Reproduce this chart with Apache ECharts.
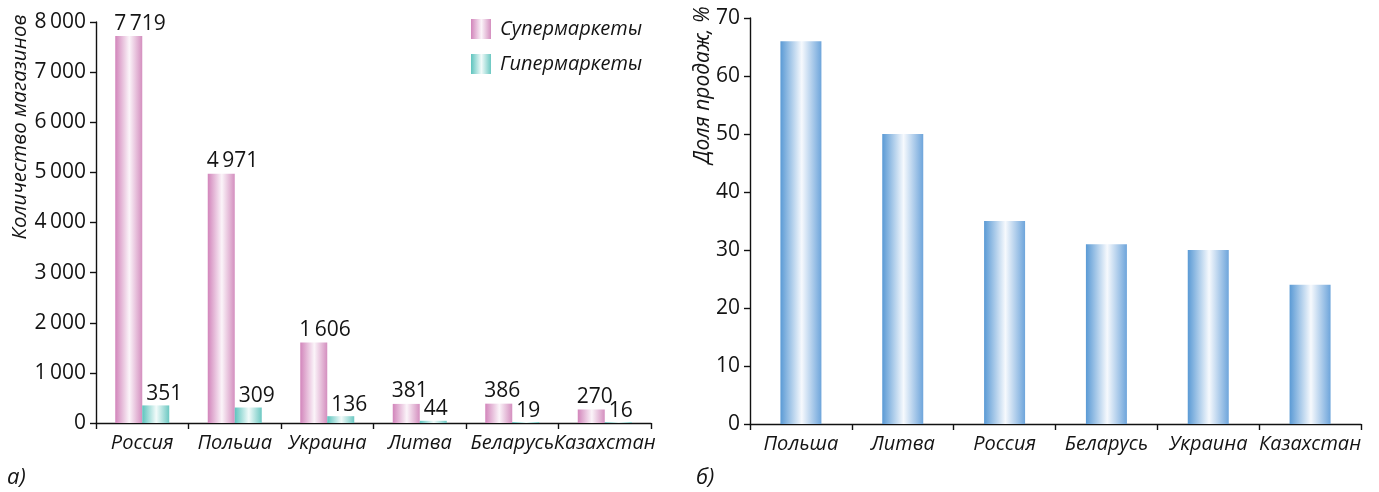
<!DOCTYPE html>
<html>
<head>
<meta charset="utf-8">
<script src="https://cdn.jsdelivr.net/npm/echarts@6/dist/echarts.min.js"></script>
<style>
  html, body { margin: 0; padding: 0; background: #fff; }
  #chart { width: 1379px; height: 492px; }
</style>
</head>
<body>
<div id="chart"></div>
<script>
// Panel а: number of stores by country
const storeCountries = ['Россия', 'Польша', 'Украина', 'Литва', 'Беларусь', 'Казахстан'];
const supermarkets = [7719, 4971, 1606, 381, 386, 270];
const hypermarkets = [351, 309, 136, 44, 19, 16];
const storeTicks = [0, 1000, 2000, 3000, 4000, 5000, 6000, 7000, 8000];

// Panel б: share of sales, %
const shareCountries = ['Польша', 'Литва', 'Россия', 'Беларусь', 'Украина', 'Казахстан'];
const shareValues = [66, 50, 35, 31, 30, 24];
const shareTicks = [0, 10, 20, 30, 40, 50, 60, 70];

const FONT = 'Open Sans';
const TXT = '#141414';

// thousands separated by a thin space
function groupDigits(v) {
  return String(v).replace(/\B(?=(\d{3})+(?!\d))/g, '\u2009');
}

function barGradient(edgeL, mid, edgeR) {
  return {
    type: 'linear', x: 0, y: 0, x2: 1, y2: 0,
    colorStops: [
      { offset: 0, color: edgeL },
      { offset: 0.52, color: mid },
      { offset: 1, color: edgeR }
    ]
  };
}

const pink = barGradient('#d285bb', '#fbf4f9', '#d48fbf');
const teal = barGradient('#5ec4be', '#f2fbfa', '#6cc8c2');
const blue = barGradient('#5a9ad5', '#f6f9fd', '#6ea5db');

const lineStyle = { color: '#111', width: 1.4 };
const axisLine = { show: true, lineStyle: lineStyle };
const axisTick = { show: true, length: 6, lineStyle: lineStyle };
const catLabel = { color: TXT, fontFamily: FONT, fontStyle: 'italic', fontSize: 20, margin: 10, interval: 0 };
const valLabel = { color: TXT, fontFamily: FONT, fontSize: 21, margin: 10 };

// value labels start at the bar's left edge, just above its top
function barLabel(dx, dy) {
  return {
    show: true, position: [0, 0], align: 'left', verticalAlign: 'bottom', offset: [dx, dy],
    color: TXT, fontFamily: FONT, fontSize: 21,
    formatter: p => groupDigits(p.value)
  };
}

const chart = echarts.init(document.getElementById('chart'), null, { renderer: 'canvas' });

chart.setOption({
  animation: false,
  backgroundColor: '#fff',
  legend: {
    orient: 'vertical',
    left: 471,
    top: 19,
    padding: 0,
    itemWidth: 20,
    itemHeight: 20,
    itemGap: 15,
    icon: 'rect',
    data: ['Супермаркеты', 'Гипермаркеты'],
    textStyle: { color: TXT, fontFamily: FONT, fontStyle: 'italic', fontSize: 20, padding: [0, 0, 0, 4] }
  },
  grid: [
    { left: 96, right: 728, top: 22, bottom: 69 },
    { left: 750, right: 18, top: 18, bottom: 68 }
  ],
  xAxis: [
    {
      type: 'category', gridIndex: 0, data: storeCountries,
      axisLine: axisLine, axisTick: axisTick, axisLabel: catLabel
    },
    {
      type: 'category', gridIndex: 1, data: shareCountries,
      axisLine: axisLine, axisTick: axisTick, axisLabel: catLabel
    }
  ],
  yAxis: [
    {
      type: 'value', gridIndex: 0,
      min: storeTicks[0], max: storeTicks[storeTicks.length - 1], interval: storeTicks[1] - storeTicks[0],
      axisLine: axisLine, axisTick: axisTick,
      splitLine: { show: false },
      axisLabel: Object.assign({ formatter: v => groupDigits(v) }, valLabel)
    },
    {
      type: 'value', gridIndex: 1,
      min: shareTicks[0], max: shareTicks[shareTicks.length - 1], interval: shareTicks[1] - shareTicks[0],
      axisLine: axisLine, axisTick: axisTick,
      splitLine: { show: false },
      axisLabel: valLabel
    }
  ],
  series: [
    {
      name: 'Супермаркеты', type: 'bar', xAxisIndex: 0, yAxisIndex: 0,
      data: supermarkets, barWidth: 27, barGap: '0%',
      itemStyle: { color: pink },
      label: barLabel(-1, -2)
    },
    {
      name: 'Гипермаркеты', type: 'bar', xAxisIndex: 0, yAxisIndex: 0,
      data: hypermarkets, barWidth: 27, barGap: '0%',
      itemStyle: { color: teal },
      label: barLabel(4, -1)
    },
    {
      name: 'Доля продаж', type: 'bar', xAxisIndex: 1, yAxisIndex: 1,
      data: shareValues, barWidth: 41,
      itemStyle: { color: blue }
    }
  ],
  graphic: [
    {
      type: 'text', x: 20, y: 127, rotation: Math.PI / 2,
      style: {
        text: 'Количество магазинов', fill: TXT,
        font: 'italic 20.5px "' + FONT + '"', textAlign: 'center', textVerticalAlign: 'middle'
      }
    },
    {
      type: 'text', x: 703, y: 85, rotation: Math.PI / 2,
      style: {
        text: 'Доля продаж, %', fill: TXT,
        font: 'italic 21px "' + FONT + '"', textAlign: 'center', textVerticalAlign: 'middle'
      }
    },
    {
      type: 'text', x: 7, y: 478,
      style: { text: 'а)', fill: TXT, font: 'italic 22px "' + FONT + '"', textVerticalAlign: 'middle' }
    },
    {
      type: 'text', x: 696, y: 478,
      style: { text: 'б)', fill: TXT, font: 'italic 22px "' + FONT + '"', textVerticalAlign: 'middle' }
    }
  ]
});
</script>
</body>
</html>
